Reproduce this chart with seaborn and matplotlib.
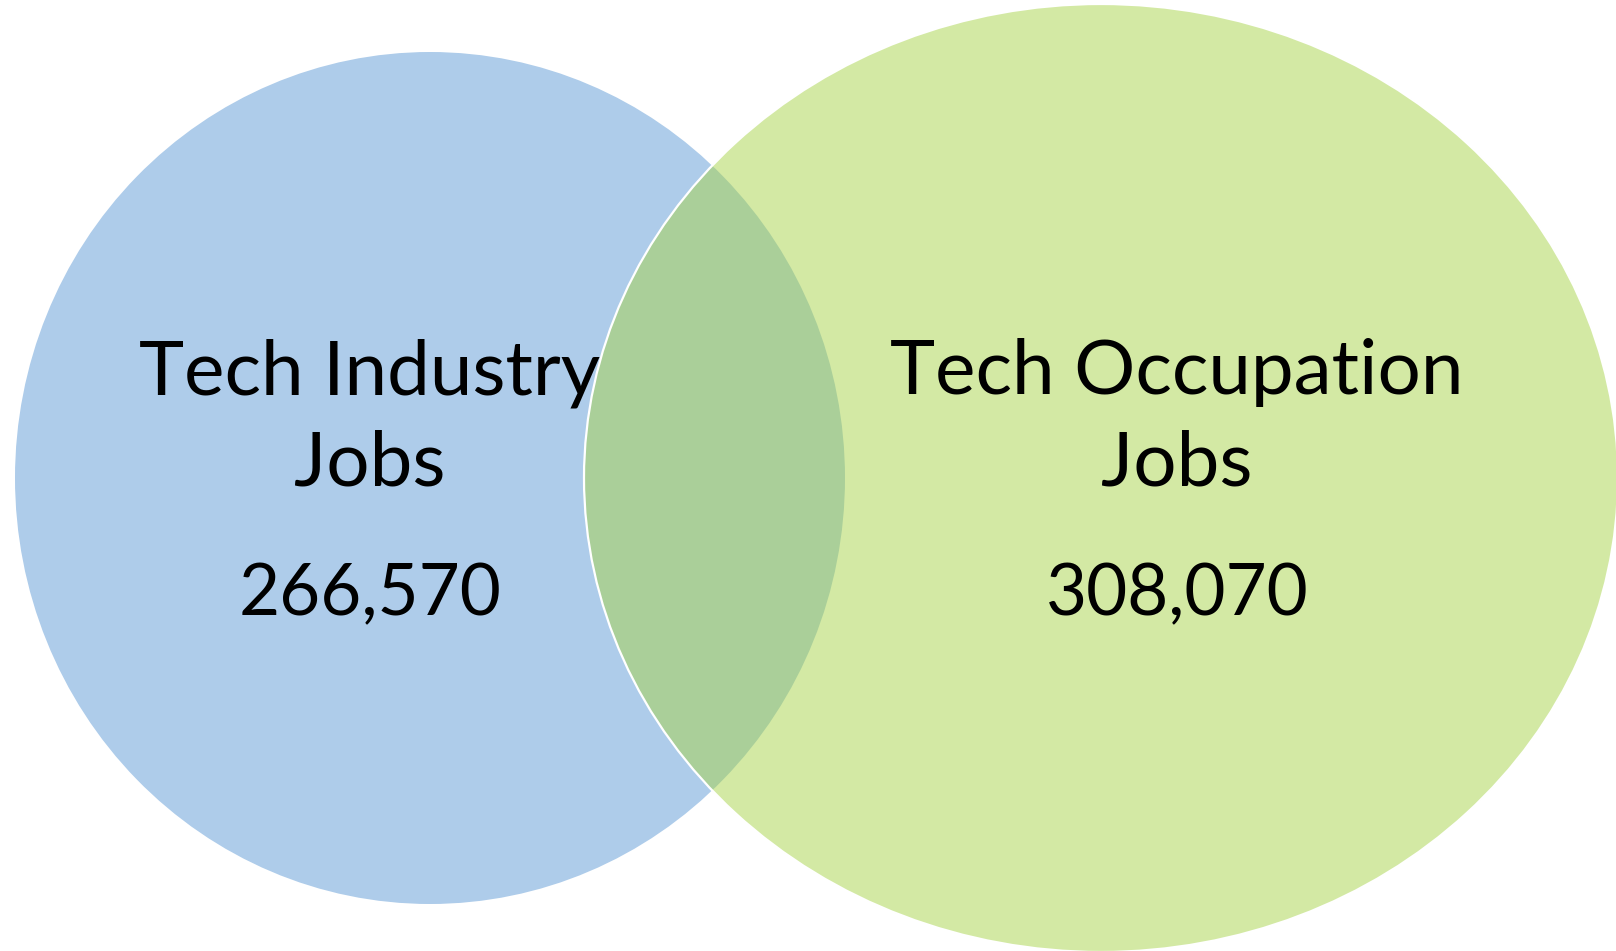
import matplotlib
matplotlib.use("Agg")
import matplotlib.pyplot as plt
from matplotlib.patches import Ellipse
import seaborn as sns

# Venn of tech jobs
set_names = ["Tech Industry\nJobs", "Tech Occupation\nJobs"]
set_totals = [266570, 308070]
set_colors = ["#aecceaff", "#a7d3497f"]   # second one is see-through

sns.set_theme(style="white")
plt.rcParams["font.family"] = ["Lato", "DejaVu Sans"]

W, H = 1616, 951
fig = plt.figure(figsize=(W / 100, H / 100), dpi=100)
ax = fig.add_axes([0, 0, 1, 1])
ax.set_xlim(0, W)
ax.set_ylim(H, 0)
ax.axis("off")

# ellipse layout (center x, center y, width, height) in pixels
shapes = [(430, 478, 830, 852), (1101, 478, 1034, 948)]
label_x = [370, 1177]

for i, (cx, cy, w, h) in enumerate(shapes):
    ec = "none" if i == 0 else "white"
    ax.add_patch(Ellipse((cx, cy), w, h, facecolor=set_colors[i],
                         edgecolor=ec, linewidth=1.6))

for i, name in enumerate(set_names):
    line1, line2 = name.split("\n")
    ax.text(label_x[i], 394, line1, ha="center", va="baseline", fontsize=55, color="black")
    ax.text(label_x[i], 486, line2, ha="center", va="baseline", fontsize=55, color="black")
    ax.text(label_x[i], 615, f"{set_totals[i]:,}", ha="center", va="baseline", fontsize=51, color="black")

fig.savefig("out.png", dpi=100)
